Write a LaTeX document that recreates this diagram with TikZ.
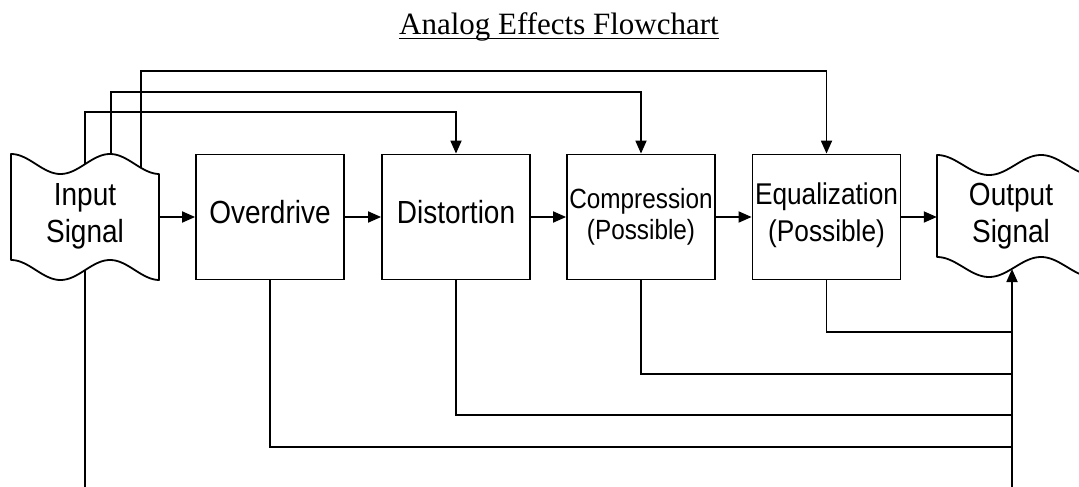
\documentclass[tikz,border=0pt]{standalone}
\usepackage{fontspec}
\setmainfont{Liberation Sans}
\newfontfamily\titlefont{Liberation Serif}
\newfontfamily\boxfont{Liberation Sans}[FakeStretch=0.875]
\usetikzlibrary{arrows.meta,backgrounds}
\begin{document}
\begin{tikzpicture}[x=1pt,y=-1pt,
  box/.style={draw,line width=1.8pt,fill=white,minimum width=148pt,minimum height=125pt,inner sep=0pt,align=center,font=\boxfont\fontsize{32}{37}\selectfont},
  io/.style={minimum width=148pt,minimum height=125pt,inner sep=0pt,align=center,font=\boxfont\fontsize{32}{37}\selectfont,text depth=8pt},
  wave/.style={draw,line width=1.8pt,fill=white,line join=round},
  link/.style={line width=1.8pt},
  arr/.style={link,-{Triangle[length=13pt,width=11pt]}}
]
\useasboundingbox (0,0) rectangle (1079,487);

% title
\node[font=\titlefont\fontsize{31}{36}\selectfont,anchor=base,inner sep=0pt] (title) at (559,35) {Analog Effects Flowchart};
\draw[line width=1.5pt] ([yshift=-3.5pt]title.base west) -- ([yshift=-3.5pt]title.base east);

% input / output shapes
\path[wave] plot[domain=0:148,samples=80,smooth] ({11+\x},{154+10*(1-cos(\x*3.6364))})
  -- plot[domain=148:0,samples=80,smooth] ({11+\x},{260+10*(1-cos(\x*3.6364))}) -- cycle;
\begin{scope}
\clip (0,0) rectangle (1079,487);
\path[wave] plot[domain=0:150,samples=80,smooth] ({937+\x},{155+10*(1-cos(\x*3.4615))})
  -- plot[domain=150:0,samples=80,smooth] ({937+\x},{257+10*(1-cos(\x*3.4615))}) -- cycle;
\end{scope}

\node[io] (in) at (85,217) {Input\\Signal};
\node[io] (out) at (1011,217) {Output\\Signal};

% process boxes
\node[box,text depth=11pt] (od) at (270,217) {Overdrive};
\node[box,text depth=11pt] (dist) at (456,217) {Distortion};
\node[box,font=\boxfont\fontsize{27.8}{31.5}\selectfont] (comp) at (641,217) {Compression\\(Possible)};
\node[box,font=\boxfont\fontsize{30}{37}\selectfont,text depth=9pt] (eq) at (826.5,217) {Equalization\\(Possible)};

% helper coordinates
\coordinate (in2) at (111,217);
\coordinate (in3) at (141,217);
\coordinate (outin) at (1012,269);
\coordinate (j1) at (1012,332);
\coordinate (j2) at (1012,374);
\coordinate (j3) at (1012,415);
\coordinate (j4) at (1012,447);
\coordinate (b1) at (85,487);
\coordinate (b2) at (1012,487);

\begin{scope}[on background layer]
% main chain
\draw[arr] (in.east) -- (od.west);
\draw[arr] (od.east) -- (dist.west);
\draw[arr] (dist.east) -- (comp.west);
\draw[arr] (comp.east) -- (eq.west);
\draw[arr] (eq.east) -- (out.west);
% bypass lines on top
\draw[arr] (in.center) -- ++(0,-105) -| (dist.north);
\draw[arr] (in2) -- ++(0,-125) -| (comp.north);
\draw[arr] (in3) -- ++(0,-146) -| (eq.north);
% return lines at the bottom
\draw[link] (eq.south) |- (j1);
\draw[link] (comp.south) |- (j2);
\draw[link] (dist.south) |- (j3);
\draw[link] (od.south) |- (j4);
\draw[arr] (in.center) -- (b1) (b2) -- (outin);
\end{scope}
\end{tikzpicture}
\end{document}
